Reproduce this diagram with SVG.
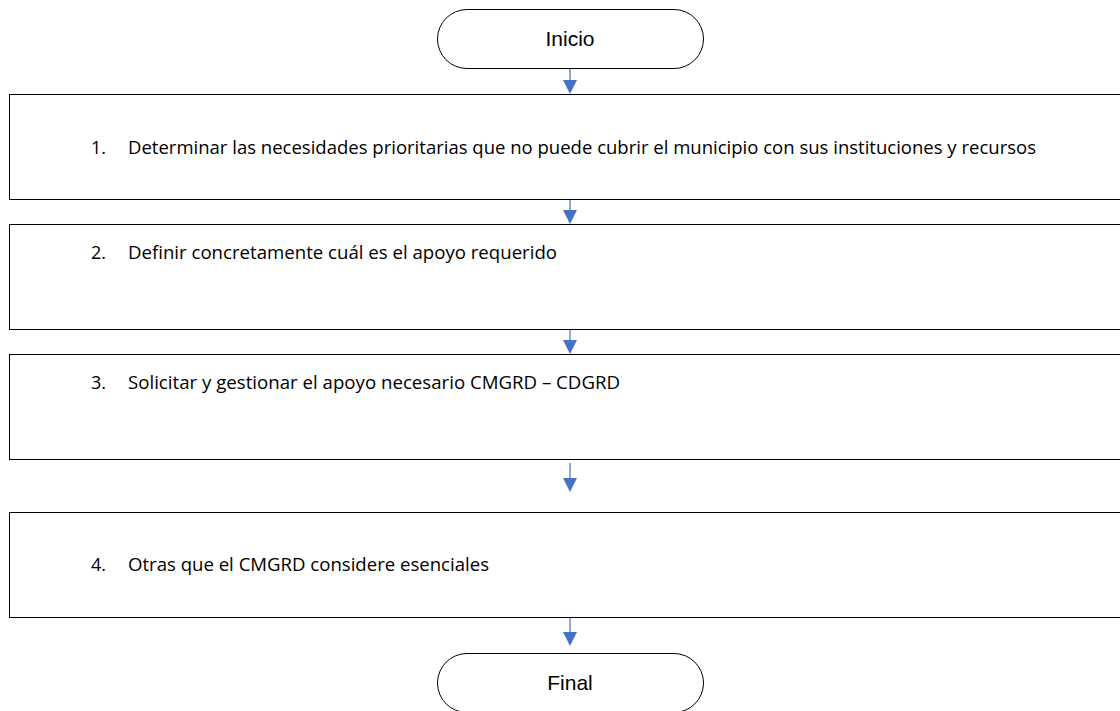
<svg xmlns="http://www.w3.org/2000/svg" width="1120" height="711" viewBox="0 0 1120 711">
<defs>
<style>
.term{fill:#fff;stroke:#000;stroke-width:1}
.box{fill:#fff;stroke:#000;stroke-width:1}
.tt{font-family:"Liberation Sans",Arial,sans-serif;font-size:21px;fill:#000;text-anchor:middle}
.bt{font-family:"Open Sans","Liberation Sans",sans-serif;font-size:18px;fill:#000}
.conn{stroke:#4472c4;stroke-width:1.2;fill:none}
.head{fill:#4472c4}
</style>
</defs>
<rect width="1120" height="711" fill="#fff"/>
<g id="inicio">
<rect class="term" x="437.5" y="9.5" width="266" height="59" rx="29.5"/>
<text class="tt" x="570" y="46">Inicio</text>
</g>
<g id="paso1">
<rect class="box" x="9.5" y="94.5" width="1120" height="105"/>
<text class="bt" x="91" y="154">1.</text>
<text class="bt" x="128" y="154" textLength="908" lengthAdjust="spacingAndGlyphs">Determinar las necesidades prioritarias que no puede cubrir el municipio con sus instituciones y recursos</text>
</g>
<g id="paso2">
<rect class="box" x="9.5" y="224.5" width="1120" height="105"/>
<text class="bt" x="91" y="259">2.</text>
<text class="bt" x="128" y="259" textLength="429" lengthAdjust="spacingAndGlyphs">Definir concretamente cuál es el apoyo requerido</text>
</g>
<g id="paso3">
<rect class="box" x="9.5" y="354.5" width="1120" height="105"/>
<text class="bt" x="91" y="389">3.</text>
<text class="bt" x="128" y="389" textLength="492" lengthAdjust="spacingAndGlyphs">Solicitar y gestionar el apoyo necesario CMGRD – CDGRD</text>
</g>
<g id="paso4">
<rect class="box" x="9.5" y="512.5" width="1120" height="105"/>
<text class="bt" x="91" y="571">4.</text>
<text class="bt" x="128" y="571" textLength="361" lengthAdjust="spacingAndGlyphs">Otras que el CMGRD considere esenciales</text>
</g>
<g id="final">
<rect class="term" x="437.5" y="653.5" width="266" height="59" rx="29.5"/>
<text class="tt" x="570" y="690">Final</text>
</g>
<g id="connectors">
<line class="conn" x1="570" y1="69" x2="570" y2="80"/>
<path class="head" d="M563,80 L577,80 L570,94 Z"/>
<line class="conn" x1="570" y1="200" x2="570" y2="210"/>
<path class="head" d="M563,210 L577,210 L570,224 Z"/>
<line class="conn" x1="570" y1="330" x2="570" y2="340"/>
<path class="head" d="M563,340 L577,340 L570,354 Z"/>
<line class="conn" x1="570" y1="463" x2="570" y2="478"/>
<path class="head" d="M563,478 L577,478 L570,492 Z"/>
<line class="conn" x1="570" y1="618" x2="570" y2="632"/>
<path class="head" d="M563,632 L577,632 L570,646 Z"/>
</g>
</svg>
